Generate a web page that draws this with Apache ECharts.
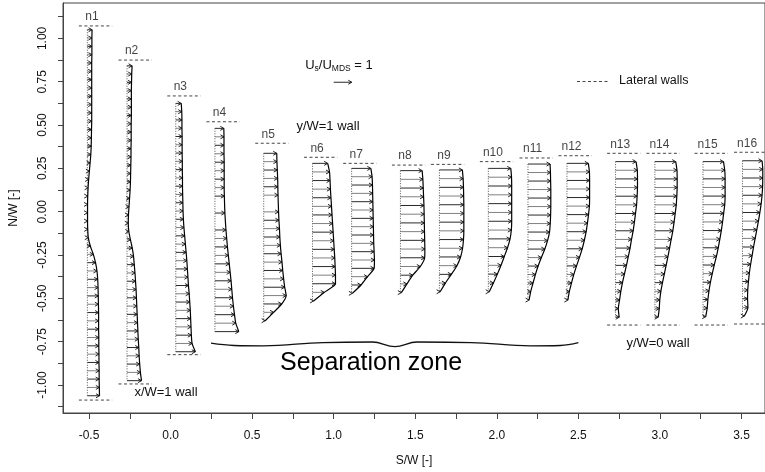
<!DOCTYPE html>
<html>
<head>
<meta charset="utf-8">
<script src="https://cdn.jsdelivr.net/npm/echarts@6/dist/echarts.min.js"></script>
<style>
  html, body { margin: 0; padding: 0; background: #fff; }
  #chart { width: 765px; height: 472px; }
</style>
</head>
<body>
<div id="chart"></div>
<script>
// profile names and the S/W station of each profile
const names = ['n1', 'n2', 'n3', 'n4', 'n5', 'n6', 'n7', 'n8', 'n9', 'n10', 'n11', 'n12', 'n13', 'n14', 'n15', 'n16'];
const stations = [-0.51, -0.267, 0.032, 0.272, 0.571, 0.87, 1.11, 1.409, 1.648, 1.948, 2.191, 2.43, 2.728, 2.969, 3.264, 3.506];

// N/W of first and last measured point of each profile
const profileTop = [1.05, 0.842, 0.625, 0.481, 0.337, 0.279, 0.25, 0.237, 0.241, 0.25, 0.275, 0.279, 0.289, 0.289, 0.289, 0.294];
const profileBottom = [-1.062, -0.975, -0.808, -0.692, -0.629, -0.515, -0.471, -0.467, -0.462, -0.462, -0.51, -0.51, -0.609, -0.609, -0.606, -0.602];

// lateral walls (N/W), null = no wall drawn
const wallTop = [1.072, 0.875, 0.668, 0.519, 0.395, 0.314, 0.279, 0.269, 0.273, 0.289, 0.31, 0.323, 0.337, 0.337, 0.337, 0.343];
const wallBottom = [-1.087, -0.994, -0.825, null, null, null, null, null, null, null, null, null, -0.654, -0.654, -0.654, -0.648];

// Us/UMDS, top to bottom, equally spaced between profileTop and profileBottom
const u1 = [0.26, 0.25, 0.25, 0.25, 0.24, 0.24, 0.24, 0.24, 0.24, 0.24,
  0.24, 0.24, 0.23, 0.22, 0.21, 0.19, 0.15, 0.11, 0.07, 0.04,
  0.02, 0.01, 0.01, 0.01, 0.02, 0.05, 0.16, 0.33, 0.45, 0.53,
  0.57, 0.59, 0.60, 0.61, 0.62, 0.62, 0.62, 0.63, 0.63, 0.64,
  0.64, 0.65, 0.65, 0.66, 0.67];
const u2 = [0.28, 0.26, 0.25, 0.24, 0.24, 0.24, 0.24, 0.23, 0.23, 0.23,
  0.22, 0.22, 0.21, 0.20, 0.19, 0.17, 0.14, 0.11, 0.08, 0.07,
  0.10, 0.19, 0.29, 0.36, 0.40, 0.44, 0.47, 0.50, 0.52, 0.54,
  0.56, 0.58, 0.60, 0.62, 0.65, 0.67, 0.70, 0.74, 0.80];
const u3 = [0.30, 0.33, 0.34, 0.34, 0.35, 0.35, 0.35, 0.36, 0.36, 0.37,
  0.37, 0.38, 0.39, 0.40, 0.42, 0.45, 0.49, 0.53, 0.57, 0.61,
  0.64, 0.67, 0.70, 0.74, 0.77, 0.80, 0.82, 0.84, 0.86, 0.90, 1.08];
const u4 = [0.49, 0.50, 0.50, 0.50, 0.51, 0.51, 0.51, 0.51, 0.52, null,
  0.55, null, 0.61, 0.65, 0.69, 0.74, 0.79, 0.84, 0.89, 0.93,
  0.97, 1.02, 1.08, 1.15, 1.32];
const u5 = [0.72, 0.73, 0.75, 0.77, 0.78, 0.79, null, 0.82, 0.84, 0.87,
  0.89, 0.92, 0.96, 1.01, 1.05, 1.10, 1.16, 1.24, 1.00, 0.55, 0.08];
const u6 = [0.84, 0.94, 0.97, 0.99, 1.02, 1.05, 1.08, 1.11, 1.14, 1.17, 1.20, 1.23, 1.25, 1.27, 1.27, 0.65, 0.06];
const u7 = [1.06, 1.13, 1.15, 1.16, 1.17, 1.18, 1.19, 1.20, 1.21, 1.22, 1.24, 1.26, 1.24, 0.88, 0.52, 0.04];
const u8 = [1.20, 1.24, 1.26, 1.28, 1.30, 1.31, 1.32, 1.33, 1.34, 1.35, 1.34, 1.10, 0.68, 0.36, 0.05];
const u9 = [1.27, 1.31, 1.33, 1.34, 1.35, 1.35, 1.35, 1.35, 1.33, 1.28, 1.17, 0.97, 0.66, 0.33, 0.04];
const u10 = [1.24, 1.28, 1.29, 1.29, 1.29, 1.29, 1.29, 1.27, 1.20, 1.06, 0.88, 0.70, 0.50, 0.28, 0.05];
const u11 = [1.22, 1.24, 1.25, 1.26, 1.26, 1.26, 1.25, 1.23, 1.19, 1.08, 0.93, 0.74, 0.56, 0.41, 0.28, 0.15, 0.06];
const u12 = [1.18, 1.24, 1.25, 1.25, 1.25, 1.24, 1.19, 1.13, 1.06, 0.96, 0.84, 0.69, 0.53, 0.38, 0.25, 0.13, 0.05];
const u13 = [1.13, 1.20, 1.21, 1.21, 1.19, 1.16, 1.10, 1.04, 0.97, 0.88, 0.80, 0.70, 0.60, 0.49, 0.38, 0.29, 0.22, 0.15, 0.20];
const u14 = [1.15, 1.22, 1.23, 1.23, 1.21, 1.18, 1.12, 1.06, 0.99, 0.90, 0.81, 0.72, 0.62, 0.52, 0.42, 0.33, 0.27, 0.24, 0.18];
const u15 = [1.13, 1.20, 1.22, 1.22, 1.22, 1.20, 1.14, 1.08, 1.01, 0.93, 0.84, 0.74, 0.62, 0.51, 0.41, 0.33, 0.27, 0.23, 0.15];
const u16 = [1.08, 1.12, 1.12, 1.11, 1.08, 1.03, 0.96, 0.88, 0.79, 0.70, 0.61, 0.53, 0.45, 0.38, 0.33, 0.29, 0.28, 0.30, 0.10];
const velocities = [u1, u2, u3, u4, u5, u6, u7, u8, u9, u10, u11, u12, u13, u14, u15, u16];

// axis ticks
const xTicks = [-0.5, -0.25, 0, 0.25, 0.5, 0.75, 1, 1.25, 1.5, 1.75, 2, 2.25, 2.5, 2.75, 3, 3.25, 3.5];
const xLabels = [-0.5, 0, 0.5, 1, 1.5, 2, 2.5, 3, 3.5];
const yTicks = [-1.125, -1, -0.875, -0.75, -0.625, -0.5, -0.375, -0.25, -0.125, 0, 0.125, 0.25, 0.375, 0.5, 0.625, 0.75, 0.875, 1, 1.125];
const yLabels = [-1, -0.75, -0.5, -0.25, 0, 0.25, 0.5, 0.75, 1];

// reference vector Us/UMDS = 1
const refVector = [1.0, 0.747, 1];

// "Separation zone" brace
const braceX = [0.248, 0.389, 0.571, 0.935, 1.238, 1.375, 1.51, 1.844, 2.207, 2.389, 2.5];
const braceY = [-0.759, -0.772, -0.774, -0.755, -0.752, -0.779, -0.752, -0.755, -0.774, -0.772, -0.756];

const VSCALE = 0.111; // S/W length of a unit vector
const FONT = 'Liberation Sans, Arial, sans-serif';

// build arrow items and tip curves
const arrowData = [];
const curves = [];
velocities.forEach((us, p) => {
  const step = (profileTop[p] - profileBottom[p]) / (us.length - 1);
  const pts = [];
  us.forEach((u, i) => {
    if (u == null) return;
    const nw = profileTop[p] - i * step;
    arrowData.push([stations[p], nw, u, i % 2]);
    pts.push([stations[p] + u * VSCALE, nw]);
  });
  curves.push(pts);
});

function renderArrow(params, api) {
  const s = api.value(0), nw = api.value(1), u = api.value(2);
  const p0 = api.coord([s, nw]);
  const p1 = api.coord([s + u * VSCALE, nw]);
  const col = api.value(3) ? '#808080' : '#2a2a2a';
  return {
    type: 'group',
    children: [
      { type: 'line', shape: { x1: p0[0], y1: p0[1], x2: p1[0], y2: p1[1] }, style: { stroke: col, lineWidth: 1 } },
      { type: 'polyline', shape: { points: [[p1[0] - 3.5, p1[1] - 2], [p1[0], p1[1]], [p1[0] - 3.5, p1[1] + 2]] },
        style: { stroke: '#222', fill: null, lineWidth: 1 } }
    ]
  };
}

const series = [];

// dotted base lines
stations.forEach((s, p) => {
  series.push({
    type: 'line', silent: true, symbol: 'none',
    data: [[s, profileTop[p]], [s, profileBottom[p]]],
    lineStyle: { color: '#555', width: 1, type: [1, 1.5] }
  });
});

// wall dashes
stations.forEach((s, p) => {
  [wallTop[p], wallBottom[p]].forEach(w => {
    if (w == null) return;
    series.push({
      type: 'line', silent: true, symbol: 'none',
      data: [[s - 0.052, w], [s + 0.152, w]],
      lineStyle: { color: '#444', width: 1, type: [3, 2.5] }
    });
  });
});

// vectors
series.push({
  type: 'custom', renderItem: renderArrow, data: arrowData, clip: false,
  encode: { x: 0, y: 1 }, silent: true, z: 3
});
series.push({
  type: 'custom', renderItem: renderArrow, data: [[refVector[0], refVector[1], refVector[2], 0]], clip: false,
  encode: { x: 0, y: 1 }, silent: true, z: 3
});

// curves through vector tips
curves.forEach(pts => {
  series.push({
    type: 'line', silent: true, symbol: 'none', smooth: 0.2, z: 4,
    data: pts, lineStyle: { color: '#000', width: 1.2 }
  });
});

// profile labels
series.push({
  type: 'scatter', silent: true, symbolSize: 0,
  data: stations.map((s, p) => ({ value: [s + 0.028, wallTop[p]], name: names[p] })),
  label: { show: true, position: 'top', distance: 3, formatter: '{b}', color: '#111', fontSize: 12, fontFamily: FONT }
});

// brace
series.push({
  type: 'line', silent: true, symbol: 'none', smooth: 0.4,
  data: braceX.map((x, i) => [x, braceY[i]]),
  lineStyle: { color: '#111', width: 1.3 }
});

const chart = echarts.init(document.getElementById('chart'), null, { renderer: 'canvas' });
chart.setOption({
  backgroundColor: '#fff',
  animation: false,
  grid: { left: 57, top: 3, right: -2, bottom: 59, show: true, borderColor: '#444', borderWidth: 1 },
  xAxis: {
    type: 'value', min: -0.6594, max: 3.644,
    name: 'S/W [-]', nameLocation: 'middle', nameGap: 42,
    nameTextStyle: { fontSize: 12, color: '#111', fontFamily: FONT },
    axisLine: { show: true, onZero: false, lineStyle: { color: '#444' } },
    axisTick: { show: true, length: 6, customValues: xTicks, lineStyle: { color: '#444' } },
    axisLabel: { customValues: xLabels, margin: 17, fontSize: 12, color: '#111', fontFamily: FONT,
      formatter: v => v.toFixed(1) },
    splitLine: { show: false }
  },
  yAxis: {
    type: 'value', min: -1.1616, max: 1.2043,
    name: 'N/W [-]', nameLocation: 'middle', nameGap: 43,
    nameTextStyle: { fontSize: 12, color: '#111', fontFamily: FONT },
    axisLine: { show: true, onZero: false, lineStyle: { color: '#444' } },
    axisTick: { show: true, length: 5, customValues: yTicks, lineStyle: { color: '#444' } },
    axisLabel: { customValues: yLabels, rotate: 90, margin: 14, fontSize: 12, color: '#111', fontFamily: FONT,
      formatter: v => v.toFixed(2) },
    splitLine: { show: false }
  },
  graphic: [
    { type: 'text', x: 339, y: 65, style: {
        text: 'U{s|s}/U{s|MDS} = 1', fill: '#111', font: '13px ' + FONT, align: 'center', verticalAlign: 'middle',
        rich: { s: { fontSize: 8.5, fontFamily: FONT, fill: '#111', padding: [7, 0, 0, 0] } } } },
    { type: 'text', x: 328, y: 126, style: { text: 'y/W=1 wall', fill: '#111', font: '13px ' + FONT, align: 'center', verticalAlign: 'middle' } },
    { type: 'line', shape: { x1: 577, y1: 81.5, x2: 610, y2: 81.5 }, style: { stroke: '#444', lineWidth: 1, lineDash: [3, 2.5] } },
    { type: 'text', x: 619, y: 81, style: { text: 'Lateral walls', fill: '#111', font: '12.5px ' + FONT, align: 'left', verticalAlign: 'middle' } },
    { type: 'text', x: 166, y: 392, style: { text: 'x/W=1 wall', fill: '#111', font: '13px ' + FONT, align: 'center', verticalAlign: 'middle' } },
    { type: 'text', x: 658, y: 343, style: { text: 'y/W=0 wall', fill: '#111', font: '13px ' + FONT, align: 'center', verticalAlign: 'middle' } },
    { type: 'text', x: 371, y: 363, style: { text: 'Separation zone', fill: '#000', font: '25px ' + FONT, align: 'center', verticalAlign: 'middle' } }
  ],
  series: series
});
</script>
</body>
</html>
